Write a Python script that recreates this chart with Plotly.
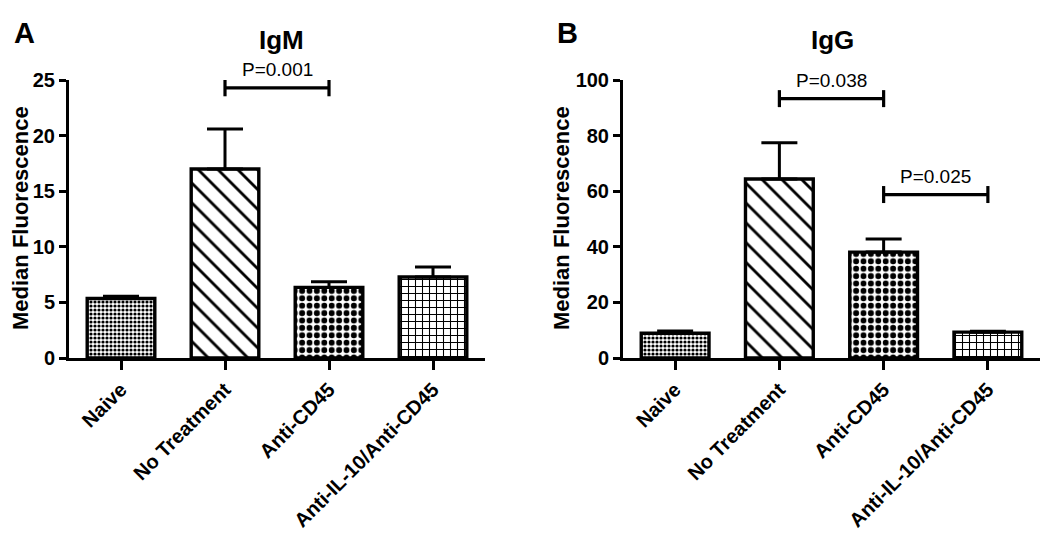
import plotly.graph_objects as go

categories = ["Naive", "No Treatment", "Anti-CD45", "Anti-IL-10/Anti-CD45"]

igm_values = [5.35, 17.0, 6.35, 7.28]
igm_errors = [0.2, 3.6, 0.5, 0.9]

igg_values = [8.9, 64.4, 38.1, 9.3]
igg_errors = [0.8, 13.0, 4.7, 0.3]

igm_ticks = [0, 5, 10, 15, 20, 25]
igg_ticks = [0, 20, 40, 60, 80, 100]

# significance brackets: (group index 1, group index 2, height, label)
igm_brackets = [(1, 2, 24.3, "P=0.001")]
igg_brackets = [(1, 2, 93.3, "P=0.038"), (2, 3, 58.8, "P=0.025")]

FONT = "Liberation Sans, Arial, Helvetica, sans-serif"
# page body margin offsets the figure by 8px; size the figure to fit the window
OFF = 8
W, H = 1050 - OFF, 542 - OFF


def px_x(p):
    return (p - OFF) / W


def px_y(p):
    return (H - (p - OFF)) / H


pattern_shapes = [".", "\\", ".", "+"]
pattern_sizes = [4, 14, 7.4, 7]
pattern_solid = [0.5, 0.2, 0.5, 0.28]

xpos = list(range(len(categories)))

fig = go.Figure()


def add_panel(values, errors, xa, ya):
    fig.add_trace(go.Bar(
        x=xpos, y=values, width=0.65,
        xaxis=xa, yaxis=ya, showlegend=False,
        marker=dict(
            color="white",
            line=dict(color="black", width=3.4),
            pattern=dict(shape=pattern_shapes, size=pattern_sizes,
                         solidity=pattern_solid, fgcolor="black",
                         bgcolor="white", fillmode="replace"),
        ),
        error_y=dict(type="data", array=errors, arrayminus=[0] * len(errors),
                     symmetric=False, color="black", thickness=3, width=18),
    ))


add_panel(igm_values, igm_errors, "x", "y")
add_panel(igg_values, igg_errors, "x2", "y2")

PLOT_H_PX = 278


def add_brackets(brackets, xa, ya, ymax):
    d = ymax * 8.5 / PLOT_H_PX
    for g1, g2, yv, label in brackets:
        fig.add_trace(go.Scatter(
            x=[g1, g1, None, g1, g2, None, g2, g2],
            y=[yv - d, yv + d, None, yv, yv, None, yv - d, yv + d],
            mode="lines", line=dict(color="black", width=3.2),
            xaxis=xa, yaxis=ya, showlegend=False, hoverinfo="skip",
        ))
        fig.add_annotation(
            x=(g1 + g2) / 2, y=yv, xref=xa, yref=ya, text=label,
            showarrow=False, xanchor="center", yanchor="middle", yshift=18,
            font=dict(family=FONT, size=19, color="black"),
        )


add_brackets(igm_brackets, "x", "y", igm_ticks[-1])
add_brackets(igg_brackets, "x2", "y2", igg_ticks[-1])

ydom = [px_y(358), px_y(80)]

xaxis_common = dict(
    range=[-0.5, 3.5], tickvals=xpos, ticktext=categories, tickangle=-45,
    showline=True, linecolor="black", linewidth=3, ticks="outside",
    ticklen=9, tickwidth=3, tickcolor="black", showgrid=False, zeroline=False,
    tickfont=dict(family=FONT, size=20, color="black", weight="bold"),
    fixedrange=True, automargin=False,
)
yaxis_common = dict(
    showline=True, linecolor="black", linewidth=3, ticks="outside",
    ticklen=7, tickwidth=3, tickcolor="black", showgrid=False, zeroline=False,
    tickfont=dict(family=FONT, size=20, color="black", weight="bold"),
    domain=ydom, automargin=False, fixedrange=True,
)

fig.update_layout(
    width=W, height=H,
    margin=dict(l=0, r=0, t=0, b=0, pad=0, autoexpand=False),
    paper_bgcolor="white", plot_bgcolor="white",
    xaxis=dict(domain=[px_x(69), px_x(485)], anchor="y", **xaxis_common),
    xaxis2=dict(domain=[px_x(623), px_x(1040)], anchor="y2", **xaxis_common),
    yaxis=dict(range=[0, igm_ticks[-1]], tickvals=igm_ticks, anchor="x", **yaxis_common),
    yaxis2=dict(range=[0, igg_ticks[-1]], tickvals=igg_ticks, anchor="x2", **yaxis_common),
    bargap=0.35,
)

big = dict(family=FONT, color="black", weight="bold")


def paper_text(xp, yp, text, size, angle=0):
    fig.add_annotation(x=px_x(xp), y=px_y(yp), xref="paper", yref="paper", text=text,
                       textangle=angle, showarrow=False, xanchor="center", yanchor="middle",
                       font=dict(size=size, **big))


paper_text(24, 33, "A", 29)
paper_text(567, 33, "B", 29)
paper_text(281, 40, "IgM", 26)
paper_text(832, 40, "IgG", 26)
paper_text(21, 218, "Median Fluorescence", 22, angle=-90)
paper_text(562, 218, "Median Fluorescence", 22, angle=-90)

fig.write_html("out.html")
